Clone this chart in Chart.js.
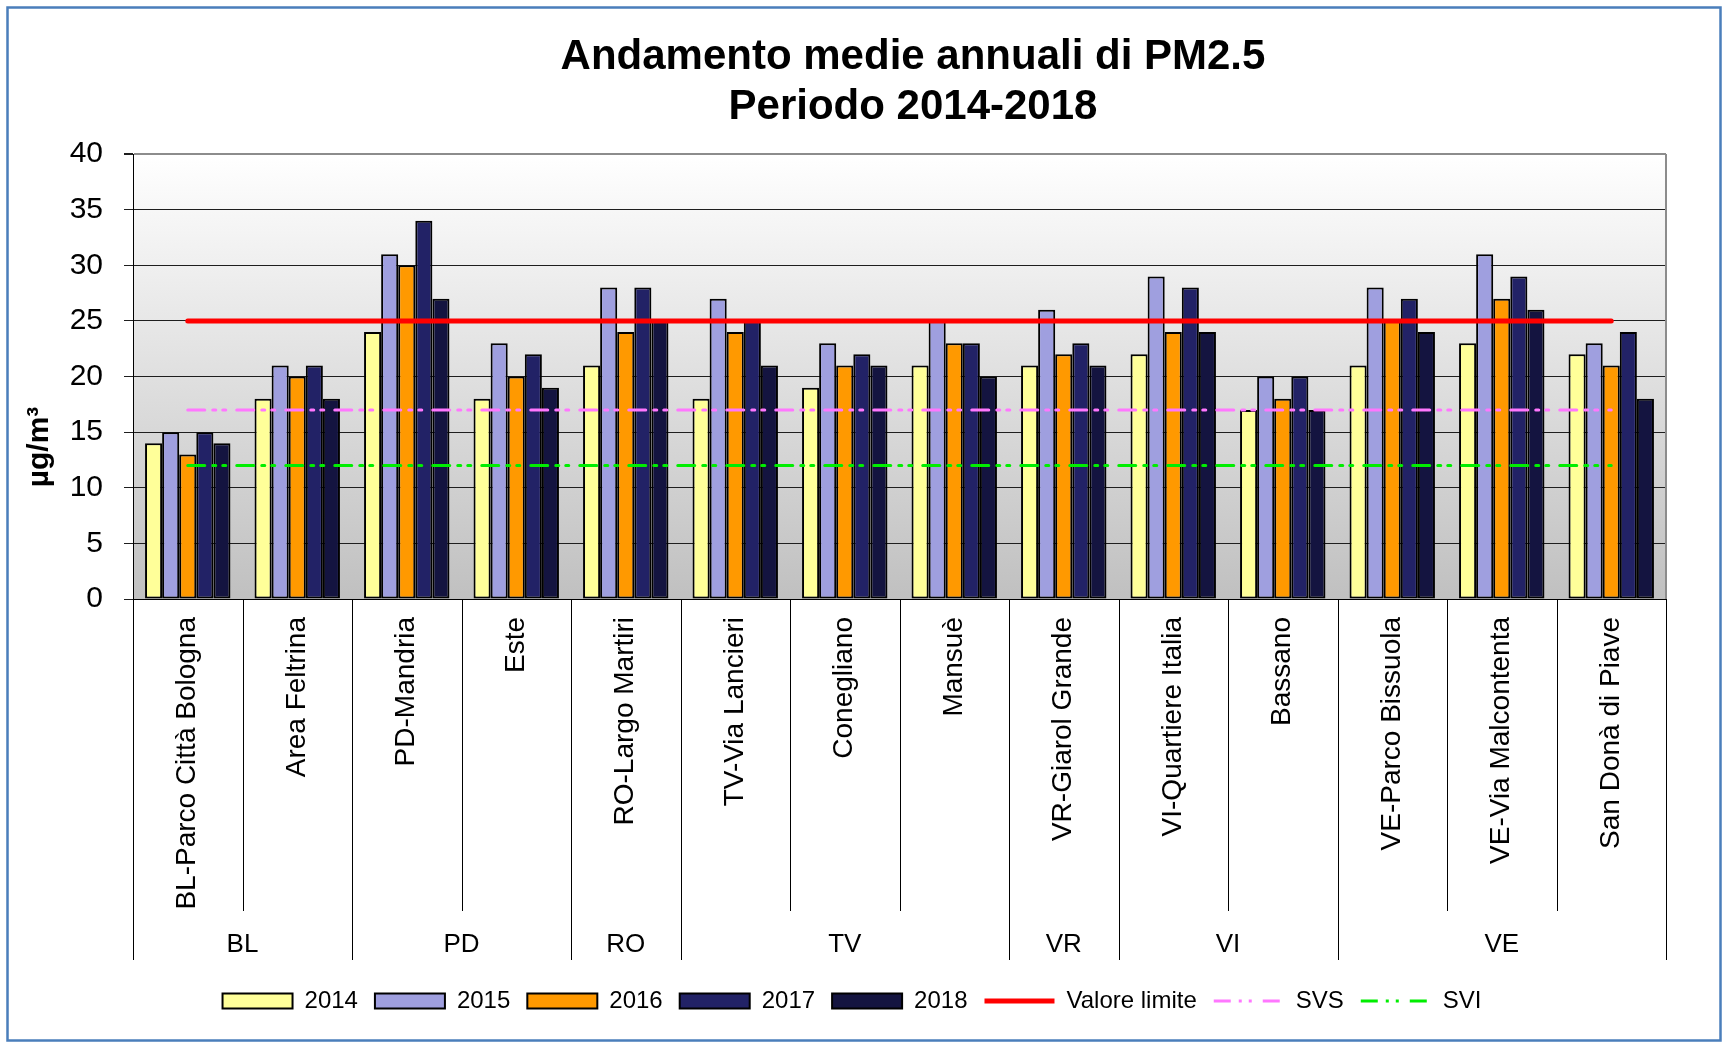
<!DOCTYPE html>
<html>
<head>
<meta charset="utf-8">
<title>PM2.5 2014-2018</title>
<script src="https://cdn.jsdelivr.net/npm/chart.js@4.4.1/dist/chart.umd.min.js"></script>
<style>
    html, body { margin: 0; padding: 0; background: #ffffff; }
    #wrap { width: 1727px; height: 1046px; }
</style>
</head>
<body>
<div id="wrap"><canvas id="pmChart" width="1727" height="1046"></canvas></div>
<script>
// Stations and their province groups
const stations = [
    'BL-Parco Città Bologna', 'Area Feltrina', 'PD-Mandria', 'Este', 'RO-Largo Martiri',
    'TV-Via Lancieri', 'Conegliano', 'Mansuè', 'VR-Giarol Grande', 'VI-Quartiere Italia',
    'Bassano', 'VE-Parco Bissuola', 'VE-Via Malcontenta', 'San Donà di Piave'
];
const provinces = ['BL', 'PD', 'RO', 'TV', 'VR', 'VI', 'VE'];
const provinceSize = [2, 2, 1, 3, 1, 2, 3];

// Annual means (µg/m³)
const pm2014 = [14, 18, 24, 18, 21, 18, 19, 21, 21, 22, 17, 21, 23, 22];
const pm2015 = [15, 21, 31, 23, 28, 27, 23, 25, 26, 29, 20, 28, 31, 23];
const pm2016 = [13, 20, 30, 20, 24, 24, 21, 23, 22, 24, 18, 25, 27, 21];
const pm2017 = [15, 21, 34, 22, 28, 25, 22, 23, 23, 28, 20, 27, 29, 24];
const pm2018 = [14, 18, 27, 19, 25, 21, 21, 20, 21, 24, 17, 24, 26, 18];

// Reference thresholds
const valoreLimite = [25, 25, 25, 25, 25, 25, 25, 25, 25, 25, 25, 25, 25, 25];
const svs = [17, 17, 17, 17, 17, 17, 17, 17, 17, 17, 17, 17, 17, 17];
const svi = [12, 12, 12, 12, 12, 12, 12, 12, 12, 12, 12, 12, 12, 12];

const yTicks = [0, 5, 10, 15, 20, 25, 30, 35, 40];

const FONT = "Arial, 'Liberation Sans', sans-serif";
Chart.defaults.font.family = FONT;
Chart.defaults.color = '#000';

const DASH_DOT_DOT = [17, 8, 3, 7, 3, 11];

function barSet(label, data, color) {
    return {
        type: 'bar',
        label: label,
        data: data,
        backgroundColor: color,
        borderColor: '#000000',
        borderWidth: 2,
        borderSkipped: false,
        pointStyle: 'rect',
        categoryPercentage: 0.78,
        barPercentage: 1.0,
        order: 1
    };
}

function lineSet(label, data, color, width, dash) {
    return {
        type: 'line',
        label: label,
        data: data,
        borderColor: color,
        backgroundColor: color,
        borderWidth: width,
        borderDash: dash,
        borderCapStyle: 'round',
        pointRadius: 0,
        pointStyle: 'line',
        fill: false,
        order: 0
    };
}

// Plot background gradient, legend nudge
const backdrop = {
    id: 'backdrop',
    afterLayout(chart) {
        // legend in the original sits a little right of the canvas centre
        chart.legend.left += 19;
        chart.legend.right += 19;
        chart.legend.top += 3;
        chart.legend.bottom += 3;
    },
    beforeDraw(chart) {
        const { ctx, chartArea: a } = chart;
        ctx.save();
        ctx.fillStyle = '#ffffff';
        ctx.fillRect(0, 0, chart.width, chart.height);
        const g = ctx.createLinearGradient(0, a.top, 0, a.bottom);
        g.addColorStop(0, '#ffffff');
        g.addColorStop(1, '#c0c0c0');
        ctx.fillStyle = g;
        ctx.fillRect(a.left, a.top, a.right - a.left, a.bottom - a.top);
        ctx.restore();
    }
};

// Titles, category separators, province labels, frame
const decorations = {
    id: 'decorations',
    afterDraw(chart) {
        const { ctx, chartArea: a } = chart;
        const x = chart.scales.x;
        ctx.save();

        // plot right border
        ctx.strokeStyle = '#8c8c8c';
        ctx.lineWidth = 2;
        ctx.beginPath();
        ctx.moveTo(a.right, a.top);
        ctx.lineTo(a.right, a.bottom);
        ctx.stroke();

        // separators below the axis
        const edge = i => {
            if (i === 0) return x.left;
            if (i === stations.length) return x.right;
            return (x.getPixelForValue(i - 1) + x.getPixelForValue(i)) / 2;
        };
        const groupEdges = [0];
        provinceSize.forEach(n => groupEdges.push(groupEdges[groupEdges.length - 1] + n));
        ctx.strokeStyle = '#000';
        ctx.lineWidth = 1;
        for (let i = 0; i <= stations.length; i++) {
            const px = Math.round(edge(i)) + 0.5;
            const isGroup = groupEdges.includes(i);
            ctx.beginPath();
            ctx.moveTo(px, a.bottom);
            ctx.lineTo(px, isGroup ? 960 : 911);
            ctx.stroke();
        }

        // province labels
        ctx.fillStyle = '#000';
        ctx.font = '26px ' + FONT;
        ctx.textAlign = 'center';
        ctx.textBaseline = 'middle';
        provinces.forEach((p, k) => {
            const cx = (edge(groupEdges[k]) + edge(groupEdges[k + 1])) / 2;
            ctx.fillText(p, cx, 945);
        });

        // chart title
        ctx.font = 'bold 42px ' + FONT;
        ctx.fillText('Andamento medie annuali di PM2.5', 913, 57);
        ctx.fillText('Periodo 2014-2018', 913, 107);

        // y axis title
        ctx.save();
        ctx.translate(40, 447);
        ctx.rotate(-Math.PI / 2);
        ctx.font = 'bold 30px ' + FONT;
        ctx.fillText('µg/m³', 0, 0);
        ctx.restore();

        // outer frame
        ctx.strokeStyle = '#4a7ebb';
        ctx.lineWidth = 2.5;
        ctx.strokeRect(7.5, 7.5, 1713, 1033);
        ctx.restore();
    }
};

new Chart(document.getElementById('pmChart'), {
    data: {
        labels: stations,
        datasets: [
            barSet('2014', pm2014, '#ffff99'),
            barSet('2015', pm2015, '#9f9fdf'),
            barSet('2016', pm2016, '#ff9900'),
            barSet('2017', pm2017, '#222266'),
            barSet('2018', pm2018, '#141440'),
            lineSet('Valore limite', valoreLimite, '#ff0000', 5, []),
            lineSet('SVS', svs, '#ff77ff', 3, DASH_DOT_DOT),
            lineSet('SVI', svi, '#00ee00', 3, DASH_DOT_DOT)
        ]
    },
    options: {
        responsive: false,
        animation: false,
        layout: {
            padding: { top: 154, left: 0, right: 61, bottom: 26 }
        },
        plugins: {
            title: { display: false },
            tooltip: { enabled: false },
            legend: {
                position: 'bottom',
                labels: {
                    usePointStyle: true,
                    pointStyleWidth: 70,
                    boxHeight: 15,
                    padding: 17,
                    color: '#000',
                    font: { size: 24, family: FONT },
                    generateLabels: function (chart) {
                        return chart.data.datasets.map((ds, i) => ({
                            text: ds.label,
                            datasetIndex: i,
                            fillStyle: ds.backgroundColor,
                            strokeStyle: ds.type === 'line' ? ds.borderColor : '#000',
                            lineWidth: ds.type === 'line' ? ds.borderWidth : 2,
                            lineDash: ds.type === 'line' ? ds.borderDash : [],
                            lineCap: 'butt',
                            pointStyle: ds.pointStyle,
                            fontColor: '#000',
                            hidden: false
                        }));
                    }
                }
            }
        },
        scales: {
            x: {
                grid: { display: false, drawTicks: false, tickLength: 0 },
                border: { display: true, color: '#000', width: 1 },
                ticks: {
                    autoSkip: false,
                    minRotation: 90,
                    maxRotation: 90,
                    padding: 18,
                    color: '#000',
                    font: { size: 28, family: FONT }
                },
                afterFit: function (scale) { scale.height = 370; }
            },
            y: {
                min: 0,
                max: 40,
                afterBuildTicks: function (scale) {
                    scale.ticks = yTicks.map(v => ({ value: v }));
                },
                grid: {
                    color: c => (c.tick && c.tick.value === 40) ? '#8c8c8c' : '#1e1e1e',
                    lineWidth: c => (c.tick && c.tick.value === 40) ? 2 : 1,
                    tickColor: '#1e1e1e',
                    tickLength: 9
                },
                border: { color: '#000', width: 1 },
                ticks: {
                    padding: 21,
                    color: '#000',
                    font: { size: 30, family: FONT }
                },
                afterFit: function (scale) { scale.width = 133; }
            }
        }
    },
    plugins: [backdrop, decorations]
});
</script>
</body>
</html>
